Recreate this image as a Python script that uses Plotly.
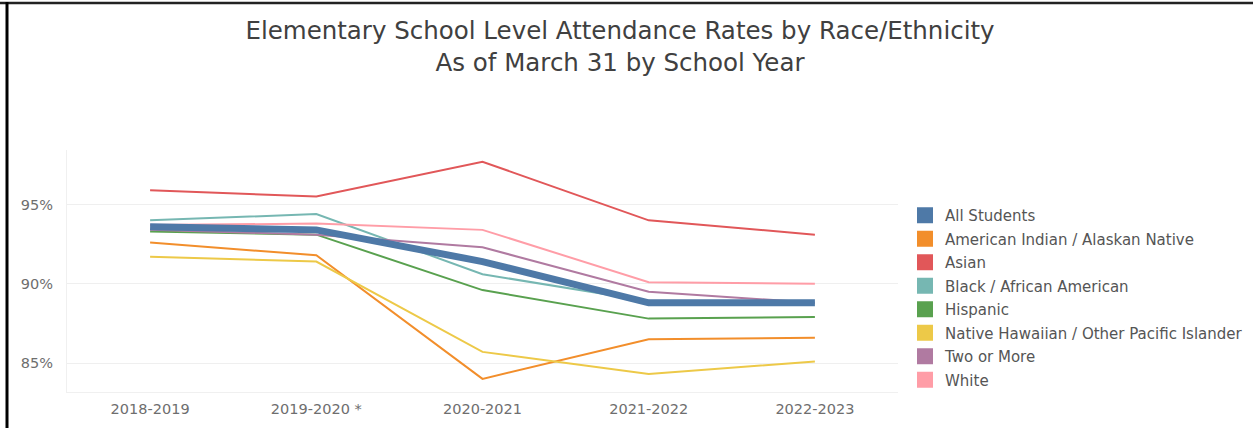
import plotly.graph_objects as go

years = ["2018-2019", "2019-2020 *", "2020-2021", "2021-2022", "2022-2023"]

all_students = [93.6, 93.4, 91.4, 88.8, 88.8]
american_indian = [92.6, 91.8, 84.0, 86.5, 86.6]
asian = [95.9, 95.5, 97.7, 94.0, 93.1]
black = [94.0, 94.4, 90.6, 88.9, 88.8]
hispanic = [93.3, 93.1, 89.6, 87.8, 87.9]
native_hawaiian = [91.7, 91.4, 85.7, 84.3, 85.1]
two_or_more = [93.4, 93.1, 92.3, 89.5, 88.8]
white = [93.7, 93.8, 93.4, 90.1, 90.0]

y_tick_vals = [85, 90, 95]
y_tick_text = ["85%", "90%", "95%"]

series = [
    ("All Students", all_students, "#4e79a7"),
    ("American Indian / Alaskan Native", american_indian, "#f28e2b"),
    ("Asian", asian, "#e15759"),
    ("Black / African American", black, "#76b7b2"),
    ("Hispanic", hispanic, "#59a14f"),
    ("Native Hawaiian / Other Pacific Islander", native_hawaiian, "#edc948"),
    ("Two or More", two_or_more, "#b07aa1"),
    ("White", white, "#ff9da7"),
]

W, H = 1253, 428
L, R, T, B = 67, 355, 150, 36
pw, ph = W - L - R, H - T - B

fig = go.Figure()

# lines: draw others first, All Students last (on top)
for name, vals, col in series[1:] + series[:1]:
    fig.add_trace(go.Scatter(
        x=years, y=vals, mode="lines", name=name,
        line=dict(color=col, width=7 if name == "All Students" else 2),
        showlegend=False, hoverinfo="x+y+name",
    ))

# legend swatches (square)
for i, (name, vals, col) in enumerate(series):
    fig.add_trace(go.Scatter(
        x=[None], y=[None], mode="markers", name=name,
        marker=dict(symbol="square", size=18, color=col),
        legendgroup=f"g{i}", showlegend=True,
    ))

def px_x(px):
    return (px - L) / pw

def px_y(py):
    return (H - B - py) / ph

fig.update_layout(
    width=W, height=H,
    margin=dict(l=L, r=R, t=T, b=B, pad=0, autoexpand=False),
    paper_bgcolor="white", plot_bgcolor="white",
    title=dict(
        text="Elementary School Level Attendance Rates by Race/Ethnicity<br>As of March 31 by School Year",
        x=620 / W, xanchor="center", y=1 - 39 / H, yanchor="middle",
        font=dict(family="DejaVu Sans", size=24.5, color="#404040"),
    ),
    xaxis=dict(
        type="category", range=[-0.5, 4.5],
        showgrid=False, showline=True, linecolor="#f0f0f0", linewidth=1,
        ticks="", tickfont=dict(family="DejaVu Sans", size=14.5, color="#6e6e6e"),
        ticklabelstandoff=4, zeroline=False, fixedrange=True,
    ),
    yaxis=dict(
        range=[83.17, 98.44],
        tickvals=y_tick_vals, ticktext=y_tick_text,
        showgrid=True, gridcolor="#efefef", gridwidth=1,
        showline=True, linecolor="#f0f0f0", linewidth=1,
        zeroline=False, ticks="",
        tickfont=dict(family="DejaVu Sans", size=14.5, color="#6e6e6e"),
        ticklabelstandoff=10, fixedrange=True,
    ),
    legend=dict(
        x=px_x(905), xanchor="left", y=px_y(199), yanchor="top",
        font=dict(family="DejaVu Sans", size=15, color="#555555"),
        traceorder="grouped", tracegroupgap=1,
        itemwidth=30, bgcolor="rgba(0,0,0,0)",
    ),
    showlegend=True,
    shapes=[
        dict(type="line", xref="paper", yref="paper",
             x0=px_x(0), x1=px_x(W), y0=px_y(3), y1=px_y(3),
             line=dict(color="#222222", width=2.5)),
        dict(type="line", xref="paper", yref="paper",
             x0=px_x(7), x1=px_x(7), y0=px_y(2), y1=px_y(H),
             line=dict(color="#000000", width=3)),
    ],
)

fig.write_html("out.html")
